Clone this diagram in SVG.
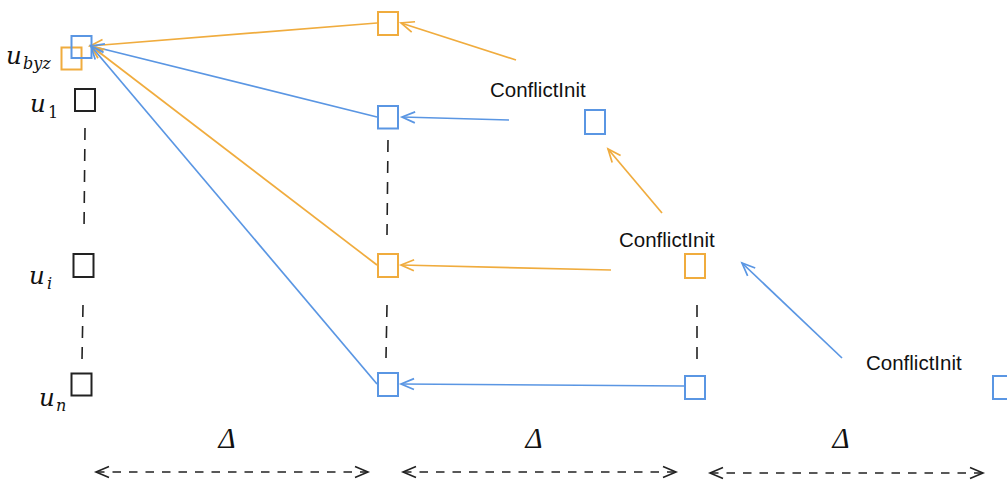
<svg xmlns="http://www.w3.org/2000/svg" width="1007" height="484" viewBox="0 0 1007 484">
  <style>
    .bg { fill: #ffffff; }
    .sq { fill: none; stroke-width: 2; }
    .blue { stroke: #5A96E3; }
    .orange { stroke: #F0AC3E; }
    .black { stroke: #222222; }
    .msg { fill: none; stroke-width: 1.7; }
    .vdash { stroke: #222222; stroke-width: 1.6; stroke-dasharray: 12 9; fill: none; }
    .span { stroke: #222222; stroke-width: 1.5; stroke-dasharray: 8.5 8; fill: none; }
    .lbl { font-family: "Liberation Sans", Arial, sans-serif; font-size: 20.5px; fill: #111111; }
    .math { font-family: "DejaVu Serif", "Liberation Serif", serif; font-style: italic; fill: #111111; }
    .mu { font-size: 24.5px; }
    .msub { font-size: 16px; }
    .up { font-style: normal; }
    .delta { font-family: "Liberation Serif", "DejaVu Serif", serif; font-style: italic; font-size: 29px; fill: #111111; }
  </style>
  <defs>
    <marker id="arrBlue" markerUnits="userSpaceOnUse" markerWidth="16" markerHeight="14" viewBox="0 0 16 14" refX="14" refY="7" orient="auto" overflow="visible">
      <path d="M1,1.5 L14,7 L1,12.5" fill="none" stroke="#5A96E3" stroke-width="1.7"/>
    </marker>
    <marker id="arrOrange" markerUnits="userSpaceOnUse" markerWidth="16" markerHeight="14" viewBox="0 0 16 14" refX="14" refY="7" orient="auto" overflow="visible">
      <path d="M1,1.5 L14,7 L1,12.5" fill="none" stroke="#F0AC3E" stroke-width="1.7"/>
    </marker>
    <marker id="chev" markerUnits="userSpaceOnUse" markerWidth="16" markerHeight="14" viewBox="0 0 16 14" refX="14" refY="7" orient="auto-start-reverse" overflow="visible">
      <path d="M1,1.5 L14,7 L1,12.5" fill="none" stroke="#222222" stroke-width="1.6"/>
    </marker>
  </defs>

  <rect class="bg" x="0" y="0" width="1007" height="484"/>

  <!-- process labels -->
  <g id="label-ubyz"><text class="math mu" x="6" y="64">u</text><text class="math msub" x="23" y="69">byz</text></g>
  <g id="label-u1"><text class="math mu" x="30" y="112">u</text><text class="math msub up" x="48" y="118">1</text></g>
  <g id="label-ui"><text class="math mu" x="29" y="284">u</text><text class="math msub" x="47" y="289">i</text></g>
  <g id="label-un"><text class="math mu" x="39" y="406">u</text><text class="math msub" x="56" y="411">n</text></g>

  <!-- vertical ellipsis dashes -->
  <g id="ellipses">
    <line class="vdash" x1="85" y1="128" x2="84" y2="232"/>
    <line class="vdash" x1="83" y1="305" x2="82" y2="360"/>
    <line class="vdash" x1="388" y1="140" x2="387" y2="235"/>
    <line class="vdash" x1="387" y1="305" x2="386" y2="358"/>
    <line class="vdash" x1="697" y1="305" x2="697" y2="360"/>
  </g>

  <!-- connectors -->
  <g id="connectors">
    <line class="msg orange" x1="377" y1="23" x2="90" y2="46" marker-end="url(#arrOrange)"/>
    <line class="msg blue" x1="377" y1="117" x2="91" y2="46" marker-end="url(#arrBlue)"/>
    <line class="msg orange" x1="377" y1="265" x2="91" y2="46" marker-end="url(#arrOrange)"/>
    <line class="msg blue" x1="377" y1="384" x2="91" y2="46" marker-end="url(#arrBlue)"/>

    <line class="msg orange" x1="516" y1="60" x2="401" y2="23" marker-end="url(#arrOrange)"/>
    <line class="msg blue" x1="509" y1="120" x2="402" y2="117" marker-end="url(#arrBlue)"/>
    <line class="msg orange" x1="662" y1="213" x2="608" y2="149" marker-end="url(#arrOrange)"/>
    <line class="msg orange" x1="611" y1="270" x2="401" y2="265" marker-end="url(#arrOrange)"/>
    <line class="msg blue" x1="842" y1="358" x2="742" y2="263" marker-end="url(#arrBlue)"/>
    <line class="msg blue" x1="684" y1="386" x2="401" y2="384" marker-end="url(#arrBlue)"/>
  </g>

  <!-- column 1: processes -->
  <g id="n-ubyz-orange"><rect class="sq orange" x="61.5" y="47.5" width="20" height="22"/></g>
  <g id="n-ubyz-blue"><rect class="sq blue" x="71.5" y="36" width="20" height="22"/></g>
  <g id="n-u1"><rect class="sq black" x="75" y="89" width="20" height="22"/></g>
  <g id="n-ui"><rect class="sq black" x="73.5" y="254" width="20" height="23"/></g>
  <g id="n-un"><rect class="sq black" x="71.5" y="373.5" width="20" height="22"/></g>

  <!-- column 2 -->
  <g id="n-c2-top"><rect class="sq orange" x="378" y="12" width="20" height="23"/></g>
  <g id="n-c2-u1"><rect class="sq blue" x="378" y="106" width="20" height="22.5"/></g>
  <g id="n-c2-ui"><rect class="sq orange" x="378" y="254" width="20" height="23"/></g>
  <g id="n-c2-un"><rect class="sq blue" x="378" y="373" width="20" height="23"/></g>

  <!-- column 3 -->
  <g id="n-c3-u1"><rect class="sq blue" x="585" y="110" width="20" height="24"/></g>
  <g id="n-c3-ui"><rect class="sq orange" x="685" y="254" width="20" height="24"/></g>
  <g id="n-c3-un"><rect class="sq blue" x="685" y="376" width="20" height="23"/></g>

  <!-- column 4 -->
  <g id="n-c4-un"><rect class="sq blue" x="993" y="376" width="20" height="23"/></g>

  <!-- message labels -->
  <g id="t-conflict-1"><text class="lbl" x="490" y="97">ConflictInit</text></g>
  <g id="t-conflict-2"><text class="lbl" x="619" y="247">ConflictInit</text></g>
  <g id="t-conflict-3"><text class="lbl" x="866" y="370">ConflictInit</text></g>

  <!-- round spans -->
  <g id="spans">
    <line class="span" x1="96" y1="472" x2="368" y2="472" marker-start="url(#chev)" marker-end="url(#chev)"/>
    <line class="span" x1="403" y1="472" x2="676" y2="472" marker-start="url(#chev)" marker-end="url(#chev)"/>
    <line class="span" x1="710" y1="473" x2="983" y2="473" marker-start="url(#chev)" marker-end="url(#chev)"/>
    <text class="delta" x="227" y="448" text-anchor="middle">Δ</text>
    <text class="delta" x="534" y="448" text-anchor="middle">Δ</text>
    <text class="delta" x="841" y="448" text-anchor="middle">Δ</text>
  </g>
</svg>
